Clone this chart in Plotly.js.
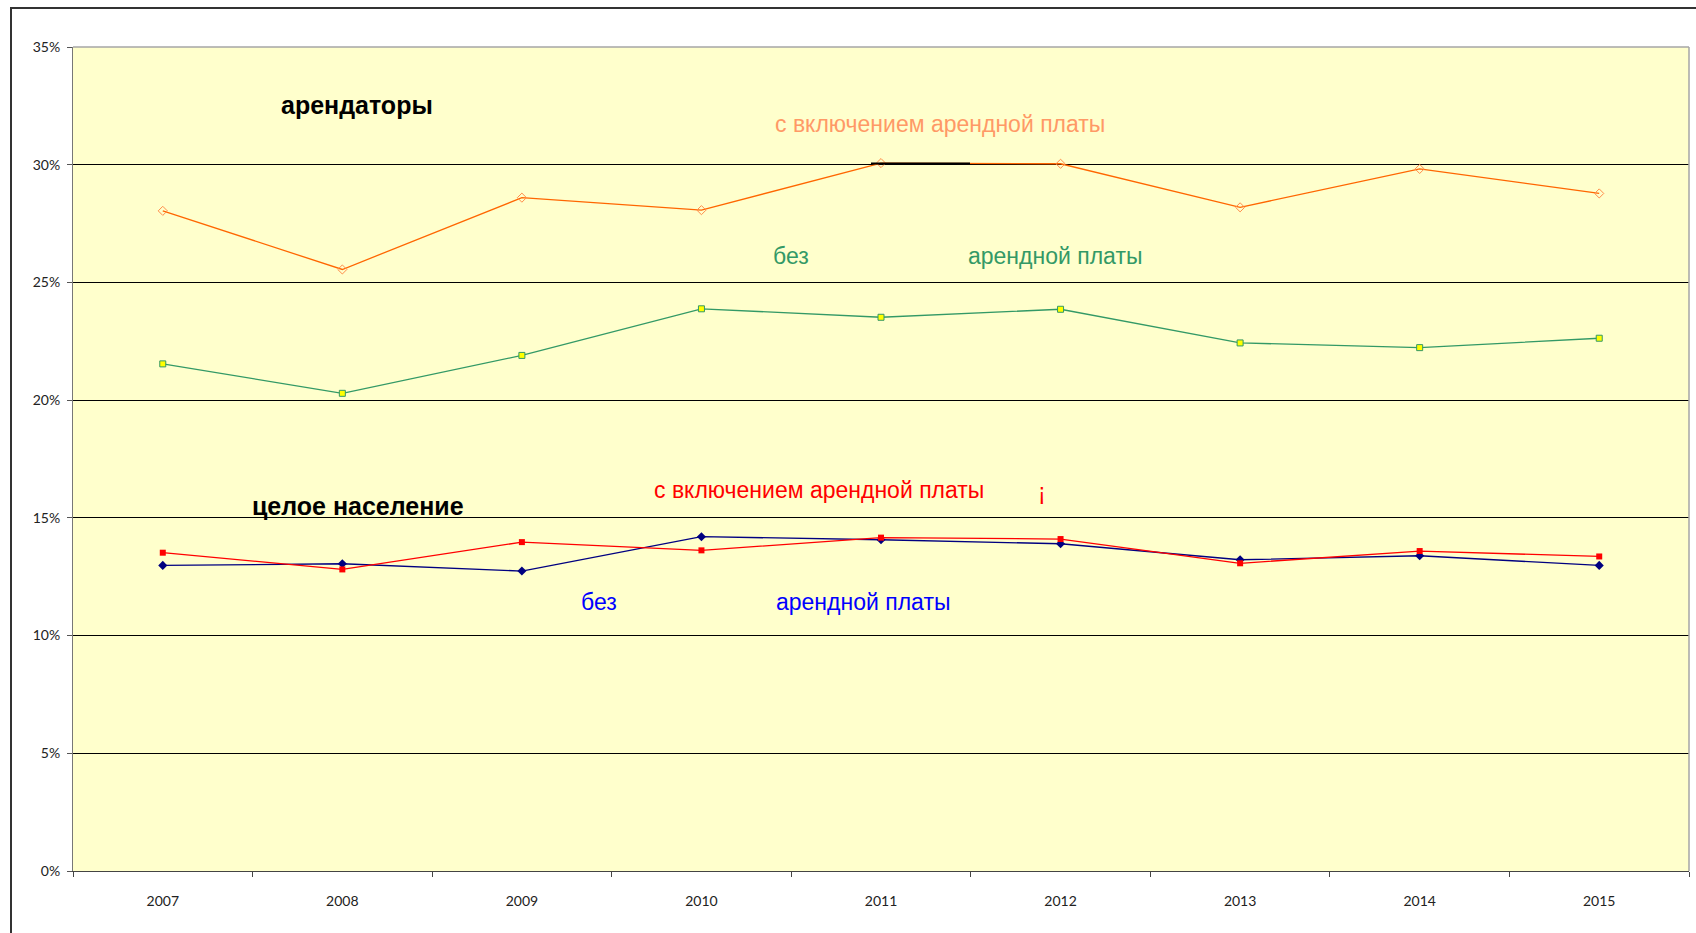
<!DOCTYPE html>
<html>
<head>
<meta charset="utf-8">
<script src="https://cdn.plot.ly/plotly-3.0.1.min.js"></script>
<style>
html,body{margin:0;padding:0;background:#fff;}
#chart{width:1696px;height:933px;}
</style>
</head>
<body>
<div id="chart"></div>
<script>
// Data
const years = ['2007','2008','2009','2010','2011','2012','2013','2014','2015'];
const tenantsWithRent = [28.04, 25.55, 28.6, 28.07, 30.07, 30.04, 28.19, 29.82, 28.78];
const tenantsWithoutRent = [21.54, 20.29, 21.9, 23.88, 23.52, 23.86, 22.43, 22.23, 22.63];
const populationWithRent = [13.52, 12.81, 13.97, 13.62, 14.16, 14.1, 13.07, 13.59, 13.36];
const populationWithoutRent = [12.98, 13.05, 12.74, 14.2, 14.07, 13.9, 13.22, 13.39, 12.98];
const yTicks = [0, 5, 10, 15, 20, 25, 30, 35];
const yTickText = ['0%', '5%', '10%', '15%', '20%', '25%', '30%', '35%'];

const traces = [
  {x: years, y: tenantsWithRent, type: 'scatter', mode: 'lines+markers',
   line: {color: '#FF6600', width: 1.3},
   marker: {symbol: 'diamond-open', size: 7, color: '#FF8C4A', line: {width: 1}}},
  {x: years, y: tenantsWithoutRent, type: 'scatter', mode: 'lines+markers',
   line: {color: '#339966', width: 1.3},
   marker: {symbol: 'square', size: 6, color: '#FFFF00', line: {color: '#339966', width: 1}}},
  {x: years, y: populationWithoutRent, type: 'scatter', mode: 'lines+markers',
   line: {color: '#000080', width: 1.3},
   marker: {symbol: 'diamond', size: 7, color: '#000080'}},
  {x: years, y: populationWithRent, type: 'scatter', mode: 'lines+markers',
   line: {color: '#FF0000', width: 1.3},
   marker: {symbol: 'square', size: 6, color: '#FF0000'}}
];

const L = 73, T = 47, R = 7, B = 62, W = 1696, H = 933;
const pw = W - L - R, ph = H - T - B;
const px = v => (v - L) / pw;
const py = v => (H - B - v) / ph;

const annFont = 'Liberation Sans, Arial, sans-serif';
function ann(text, x, y, color, size, bold) {
  return {text: bold ? '<b>' + text + '</b>' : text, xref: 'paper', yref: 'paper',
    x: px(x), y: py(y), xanchor: 'center', yanchor: 'middle', showarrow: false,
    font: {family: annFont, size: size, color: color}};
}

const layout = {
  width: W, height: H,
  margin: {l: L, r: R, t: T, b: B},
  paper_bgcolor: '#FFFFFF',
  plot_bgcolor: '#FFFFCC',
  showlegend: false,
  font: {family: 'Lato, Liberation Sans, sans-serif', size: 14, color: '#222'},
  xaxis: {
    type: 'category', range: [-0.5, 8.5], tickson: 'boundaries',
    ticks: 'outside', ticklen: 5, tickcolor: '#444', tickwidth: 1,
    showline: true, linecolor: '#444', linewidth: 1,
    showgrid: false, zeroline: false, ticklabelstandoff: 17,
    tickfont: {family: 'Lato, sans-serif', size: 14, color: '#222'}
  },
  yaxis: {
    range: [0, 35], tickmode: 'array', tickvals: yTicks, ticktext: yTickText,
    ticks: 'outside', ticklen: 5, tickcolor: '#555', tickwidth: 1,
    showline: true, linecolor: '#777', linewidth: 1,
    showgrid: true, gridcolor: '#000000', gridwidth: 1, zeroline: false,
    ticklabelstandoff: 4,
    tickfont: {family: 'Lato, sans-serif', size: 14, color: '#222'}
  },
  shapes: [
    // outer frame
    {type: 'rect', xref: 'paper', yref: 'paper',
     x0: px(11), x1: px(1720), y0: py(960), y1: py(8),
     line: {color: '#333', width: 2}, fillcolor: 'rgba(0,0,0,0)', layer: 'above'},
    // plot border top/right
    {type: 'line', xref: 'paper', yref: 'paper', x0: 0, x1: 1, y0: 1, y1: 1,
     line: {color: '#A6A6A6', width: 1.5}},
    {type: 'line', xref: 'paper', yref: 'paper', x0: 1, x1: 1, y0: 0, y1: 1,
     line: {color: '#A6A6A6', width: 1.5}},
    // black segment at 30%
    {type: 'line', xref: 'paper', yref: 'y', x0: px(871), x1: px(970), y0: 30.05, y1: 30.05,
     line: {color: '#000', width: 2}}
  ],
  annotations: [
    ann('арендаторы', 357, 105, '#000000', 25, true),
    ann('с включением арендной платы', 940, 124, '#FF9966', 23),
    ann('без', 791, 256, '#339966', 23),
    ann('арендной платы', 1055, 256, '#339966', 23),
    ann('целое население', 358, 506, '#000000', 25, true),
    ann('с включением арендной платы', 819, 490, '#FF0000', 23),
    ann('¡', 1042, 492, '#FF0000', 23),
    ann('без', 599, 602, '#0000FF', 23),
    ann('арендной платы', 863, 602, '#0000FF', 23)
  ]
};

Plotly.newPlot('chart', traces, layout, {staticPlot: true, displayModeBar: false});
</script>
</body>
</html>
